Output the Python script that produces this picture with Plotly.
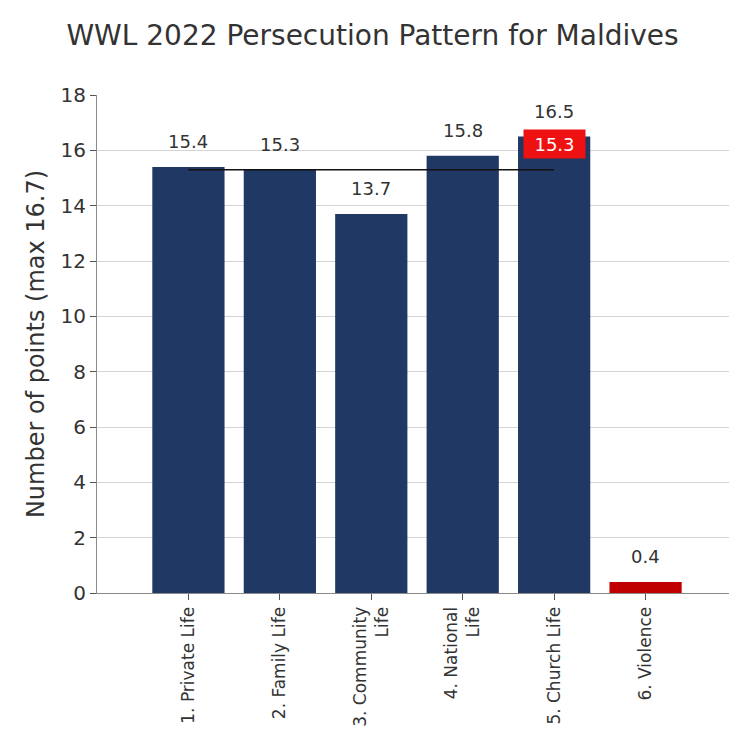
import plotly.graph_objects as go

categories = ["1. Private Life", "2. Family Life", "3. Community<br>Life",
              "4. National<br>Life", "5. Church Life", "6. Violence"]
values = [15.4, 15.3, 13.7, 15.8, 16.5, 0.4]
average = 15.3
bar_colors = ["#203864", "#203864", "#203864", "#203864", "#203864", "#c00000"]
y_ticks = [0, 2, 4, 6, 8, 10, 12, 14, 16, 18]

xs = list(range(len(categories)))
FONT = "DejaVu Sans, Liberation Sans, Arial, sans-serif"
TXT = "#333333"

fig = go.Figure()
fig.add_trace(go.Bar(
    x=xs, y=values, width=0.79,
    marker=dict(color=bar_colors, line=dict(width=0)),
    hoverinfo="skip",
))
# average line across first five blocks
fig.add_trace(go.Scatter(
    x=xs[:5], y=[average] * 5, mode="lines",
    line=dict(color="#111111", width=1.6), hoverinfo="skip",
))

annotations = []
for x, v in zip(xs, values):
    annotations.append(dict(
        x=x, y=v, xref="x", yref="y", text=f"{v:.1f}", showarrow=False,
        yanchor="middle", yshift=25,
        font=dict(family=FONT, size=18, color=TXT),
    ))
annotations.append(dict(
    x=xs[4], y=values[4], xref="x", yref="y", text=f"{average:.1f}",
    showarrow=False, yanchor="middle", yshift=-7,
    bgcolor="#ee1111", borderpad=3, width=55, height=22,
    font=dict(family=FONT, size=18, color="#ffffff"),
))

fig.update_layout(
    width=729, height=729,
    margin=dict(l=89, r=0, t=87, b=144),
    paper_bgcolor="white", plot_bgcolor="white",
    showlegend=False,
    title=dict(text="WWL 2022 Persecution Pattern for Maldives",
               x=0.5, xanchor="center", y=0.963, yanchor="middle",
               font=dict(family=FONT, size=28, color=TXT)),
    font=dict(family=FONT, color=TXT),
    annotations=annotations,
)
fig.update_xaxes(
    range=[-1, 6], tickmode="array", tickvals=xs, ticktext=categories,
    tickangle=-90, ticks="outside", ticklen=6, tickcolor="#555555",
    showline=True, linecolor="#8a8a8a", linewidth=1,
    showgrid=False, zeroline=False,
    tickfont=dict(family=FONT, size=17, color=TXT),
)
fig.update_yaxes(
    range=[0, 18], tickvals=y_ticks, ticks="outside", ticklen=6,
    tickcolor="#555555", showline=True, linecolor="#8a8a8a", linewidth=1,
    showgrid=True, gridcolor="#d4d4d4", gridwidth=1, zeroline=False,
    tickfont=dict(family=FONT, size=20, color=TXT),
    title=dict(text="Number of points (max 16.7)", standoff=9,
               font=dict(family=FONT, size=24, color=TXT)),
)

fig.write_html("out.html")
